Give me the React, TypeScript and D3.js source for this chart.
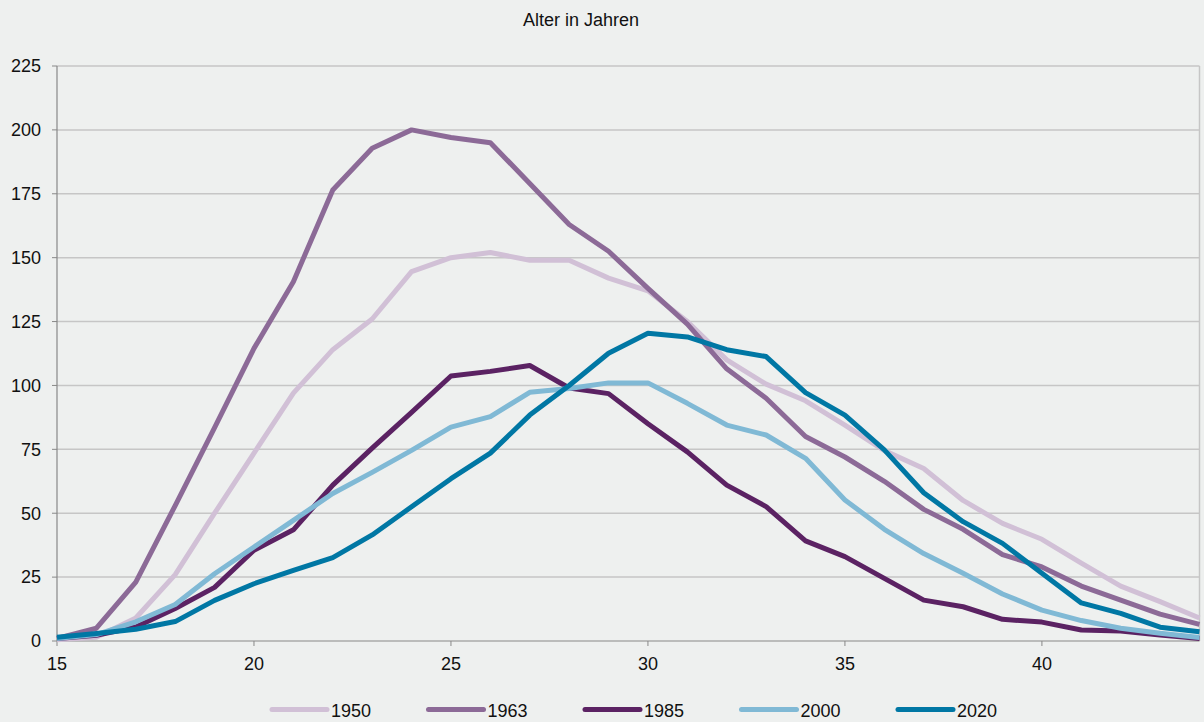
import React from "react";
import * as d3 from "d3";

const ages = [15,16,17,18,19,20,21,22,23,24,25,26,27,28,29,30,31,32,33,34,35,36,37,38,39,40,41,42,43,44];

const v1950 = [0.5,1.5,9,26,50,73.5,97,114,126,144.5,150,152,149,149,142,137,125,110,100.5,94,84.5,74.5,67.5,55,46,39.8,30.5,21.5,15.4,9];
const v1963 = [1,5,23,53,83.5,114.5,140.6,176.5,192.8,200,197,195,179,163,152.5,138,124,106.5,95,80,72,62.5,51.5,43.7,33.8,29,21.5,16,10.5,6.5];
const v1985 = [1,2.2,5.5,12.7,21,35.5,43.5,61,75.5,89.5,103.7,105.5,107.8,99,96.8,85,74,61,52.6,39.2,33,24.5,16,13.4,8.5,7.4,4.3,3.9,2.3,1];
const v2000 = [1,2.5,7.5,14.3,26.3,36.8,47.2,57.7,66,74.6,83.7,87.8,97.3,98.8,101,101,93,84.5,80.6,71.5,55.2,43.7,34.2,26.5,18.4,12.1,8,5,3,1.4];
const v2020 = [1.5,2.9,4.6,7.6,15.9,22.4,27.6,32.6,41.5,52.5,63.5,73.5,88.4,100,112.6,120.4,119,114,111.3,97.2,88.4,74.8,58,46.7,38.2,26.5,14.9,10.8,5.4,3.6];

const seriesNames = ["1950","1963","1985","2000","2020"];
const seriesValues = [v1950, v1963, v1985, v2000, v2020];
const seriesColors = ["#d1c0d6", "#8c6a97", "#5b2263", "#80b9d5", "#0077a4"];

const yTicks = [0,25,50,75,100,125,150,175,200,225];
const xTicks = [15,20,25,30,35,40];

const W = 1204, H = 722;
const left = 57, right = 1199.5, top = 66, bottom = 641;

export default function App() {
  const x = d3.scaleLinear().domain([15, 44]).range([left, right]);
  const y = d3.scaleLinear().domain([0, 225]).range([bottom, top]);
  const line = d3.line<number>().x((_, i) => x(ages[i])).y((d) => y(d));
  const font = "'Liberation Sans', Arial, sans-serif";

  const legendStart = 272;
  const legendStep = 156.5;

  return (
    <svg width={W} height={H} style={{ position: "absolute", left: 0, top: 0, background: "#eef0ef" }} fontFamily={font}>
      <rect x={0} y={0} width={W} height={H} fill="#eef0ef" />
      <text x={581} y={26} fontSize={18} textAnchor="middle" fill="#111">Alter in Jahren</text>
      {yTicks.map((t) => (
        <g key={t}>
          {t > 0 && <line x1={left} x2={right} y1={y(t)} y2={y(t)} stroke="#c6c6c6" strokeWidth={1.5} />}
          <line x1={left - 5} x2={left} y1={y(t)} y2={y(t)} stroke="#888" strokeWidth={1} />
          <text x={41} y={y(t)} dy="0.35em" fontSize={18} textAnchor="end" fill="#111">{t}</text>
        </g>
      ))}
      <line x1={right} x2={right} y1={top} y2={bottom} stroke="#c6c6c6" strokeWidth={1.5} />
      <line x1={left} x2={left} y1={top} y2={bottom} stroke="#888" strokeWidth={1.2} />
      <line x1={left} x2={right} y1={bottom} y2={bottom} stroke="#888" strokeWidth={1.2} />
      {xTicks.map((t) => (
        <g key={t}>
          <line x1={x(t)} x2={x(t)} y1={bottom} y2={bottom + 5} stroke="#888" strokeWidth={1} />
          <text x={x(t)} y={670} fontSize={18} textAnchor="middle" fill="#111">{t}</text>
        </g>
      ))}
      {seriesValues.map((vals, i) => (
        <path key={seriesNames[i]} d={line(vals) || ""} fill="none" stroke={seriesColors[i]} strokeWidth={5} strokeLinejoin="round" />
      ))}
      {seriesNames.map((n, i) => {
        const lx = legendStart + i * legendStep;
        return (
          <g key={n}>
            <line x1={lx} x2={lx + 55} y1={709.5} y2={709.5} stroke={seriesColors[i]} strokeWidth={5} strokeLinecap="round" />
            <text x={lx + 59} y={716.5} fontSize={18} fill="#111">{n}</text>
          </g>
        );
      })}
    </svg>
  );
}
